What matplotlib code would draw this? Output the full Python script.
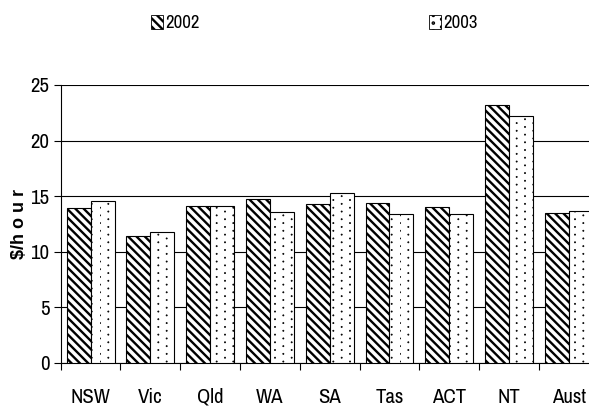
import matplotlib
matplotlib.use("Agg")
import matplotlib.pyplot as plt
import matplotlib.hatch as mhatch
from matplotlib.path import Path
from matplotlib.patches import Patch
import numpy as np

categories = ["NSW", "Vic", "Qld", "WA", "SA", "Tas", "ACT", "NT", "Aust"]
values_2002 = [13.9, 11.45, 14.1, 14.7, 14.25, 14.35, 14.05, 23.2, 13.45]
values_2003 = [14.6, 11.8, 14.1, 13.6, 15.3, 13.35, 13.35, 22.2, 13.7]
series_labels = ["2002", "2003"]
yticks = [0, 5, 10, 15, 20, 25]


# Sparse staggered dot hatch (replaces matplotlib's '.' pattern)
class StaggeredDots(mhatch.HatchPatternBase):
    def __init__(self, hatch, density):
        self.on = hatch.count('.') > 0
        self.ncols = 12
        self.nrows = 13
        circ = Path.unit_circle()
        self.sv = circ.vertices * 0.006
        self.sc = circ.codes
        self.num_vertices = (self.ncols * (self.nrows + 1) * len(self.sv)) if self.on else 0

    def set_vertices_and_codes(self, vertices, codes):
        vparts, cparts = [], []
        for i in range(self.ncols):
            xx = i / self.ncols
            off = 0.5 / self.nrows if i % 2 else 0.0
            for j in range(self.nrows + 1):
                yy = j / self.nrows + off
                vparts.append(self.sv + [xx, yy])
                cparts.append(self.sc)
        np.concatenate(vparts, out=vertices)
        np.concatenate(cparts, out=codes)


mhatch._hatch_types = [StaggeredDots if t is mhatch.SmallFilledCircles else t
                       for t in mhatch._hatch_types]

narrow = ['Liberation Sans Narrow', 'Arial Narrow', 'Archivo Narrow', 'PT Sans Narrow',
          'Roboto Condensed', 'Pragati Narrow', 'Encode Sans Condensed', 'DejaVu Sans']
plt.rcParams['font.family'] = narrow
plt.rcParams['hatch.linewidth'] = 1.7


def thin_hatch(patches, lw):
    for p in patches:
        if hasattr(p, "set_hatch_linewidth"):
            p.set_hatch_linewidth(lw)


fig = plt.figure(figsize=(5.89, 4.07), dpi=100)
ax = fig.add_axes([60.7/589, 1-362.7/407, 538/589, (362.7-85)/407])

x = np.arange(len(categories))
w = 0.4
ax.bar(x - w/2, values_2002, w, facecolor="white", edgecolor="black",
       hatch="\\\\\\\\", linewidth=0.8, zorder=3)
b2 = ax.bar(x + w/2, values_2003, w, facecolor="white", edgecolor="black",
            hatch=".", linewidth=0.8, zorder=3)
thin_hatch(b2, 0.5)

ax.set_xlim(-0.5, len(categories) - 0.5)
ax.set_ylim(0, 25)
ax.set_yticks(yticks)
ax.set_yticklabels([str(t) for t in yticks], fontsize=15)
ax.yaxis.grid(True, color="black", linewidth=0.8, zorder=0)
ax.set_axisbelow(True)

ax.set_xticks(x)
ax.set_xticklabels(categories, fontsize=15)
ax.tick_params(axis='x', length=0, pad=18)
ax.set_xticks(np.arange(len(categories) + 1) - 0.5, minor=True)
ax.tick_params(axis='x', which='minor', length=5, width=0.8, direction='out')
ax.tick_params(axis='y', length=5, width=0.8, direction='out', pad=3)

for s in ["top", "right"]:
    ax.spines[s].set_visible(False)
for s in ["left", "bottom"]:
    ax.spines[s].set_linewidth(0.8)

ax.set_ylabel("\\$/h o u r", fontsize=13, fontweight="bold",
              family=['Liberation Sans', 'DejaVu Sans'], labelpad=2)

h1 = Patch(facecolor="white", edgecolor="black", hatch="\\\\\\\\", linewidth=0.6)
h2 = Patch(facecolor="white", edgecolor="black", hatch=".", linewidth=0.6)
thin_hatch([h2], 0.5)
for h, lab, xpos in [(h1, series_labels[0], 151/589), (h2, series_labels[1], 429/589)]:
    fig.legend([h], [lab], loc="center left", bbox_to_anchor=(xpos, 1 - 23/407),
               frameon=False, fontsize=13.5, handlelength=0.65, handleheight=0.85,
               handletextpad=0.1, borderpad=0, borderaxespad=0)

fig.savefig("out.png", dpi=100)
